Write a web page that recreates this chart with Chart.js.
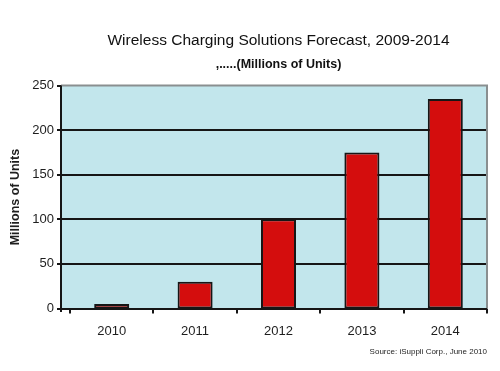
<!DOCTYPE html>
<html>
<head>
<meta charset="utf-8">
<script src="https://cdn.jsdelivr.net/npm/chart.js@4"></script>
<style>
    html, body { margin: 0; padding: 0; background: #fff; }
</style>
</head>
<body>
<canvas id="forecast" width="500" height="371"></canvas>
<script>
// data
const years = ['2010', '2011', '2012', '2013', '2014'];
const units = [5, 30, 100, 175, 235];
const gridValues = [50, 100, 150, 200];

const chartTitle = 'Wireless Charging Solutions Forecast, 2009-2014';
const chartSubtitle = ',.....(Millions of Units)';
const axisTitle = 'Millions of Units';
const sourceNote = 'Source: iSuppli Corp., June 2010';

Chart.defaults.font.family = "'Liberation Sans', Arial, sans-serif";
Chart.defaults.color = '#1e1e1e';

// plot background, grid lines and axis lines (the old excel look)
const plotFrame = {
    id: 'plotFrame',
    beforeDatasetsDraw(chart) {
        const {ctx, chartArea: a, scales: {y}} = chart;
        const left = a.left - 9;
        ctx.save();
        ctx.fillStyle = '#c2e6ec';
        ctx.fillRect(left, a.top, a.right - left, a.bottom - a.top);
        ctx.strokeStyle = '#161616';
        ctx.lineWidth = 2;
        gridValues.forEach((v) => {
            const py = Math.round(y.getPixelForValue(v));
            ctx.beginPath();
            ctx.moveTo(left, py);
            ctx.lineTo(a.right, py);
            ctx.stroke();
        });
        ctx.restore();
    },
    afterDatasetsDraw(chart) {
        const {ctx, chartArea: a, scales: {y}} = chart;
        const left = a.left - 9;
        const zero = Math.round(y.getPixelForValue(0));
        ctx.save();
        // top + right border, grey
        ctx.strokeStyle = '#8a8f90';
        ctx.lineWidth = 2;
        ctx.beginPath();
        ctx.moveTo(left, a.top);
        ctx.lineTo(a.right, a.top);
        ctx.lineTo(a.right, zero);
        ctx.stroke();
        // y axis line with small ticks
        ctx.strokeStyle = '#161616';
        ctx.beginPath();
        ctx.moveTo(left, a.top);
        ctx.lineTo(left, zero + 3);
        [0].concat(gridValues, [250]).forEach((v) => {
            const py = Math.round(y.getPixelForValue(v));
            ctx.moveTo(left - 4, py);
            ctx.lineTo(left, py);
        });
        // x axis line
        ctx.moveTo(left - 4, zero);
        ctx.lineTo(a.right, zero);
        ctx.stroke();
        ctx.restore();
    }
};

new Chart(document.getElementById('forecast'), {
    type: 'bar',
    data: {
        labels: years,
        datasets: [{
            label: 'Millions of Units',
            data: units,
            backgroundColor: '#d40d0d',
            borderColor: '#161616',
            borderWidth: 2,
            borderSkipped: false,
            categoryPercentage: 1,
            barPercentage: 0.42
        }]
    },
    plugins: [plotFrame],
    options: {
        responsive: false,
        animation: false,
        layout: { padding: { left: 0, right: 13, top: 0, bottom: 0 } },
        plugins: {
            legend: { display: false },
            tooltip: { enabled: false },
            title: {
                display: true,
                text: chartTitle,
                fullSize: false,
                color: '#111',
                font: { size: 15.5, weight: 'normal' },
                padding: { top: 31, bottom: 7 }
            },
            subtitle: {
                display: true,
                text: chartSubtitle,
                fullSize: false,
                color: '#111',
                font: { size: 12.5, weight: 'bold' },
                padding: { top: 0, bottom: 14 }
            }
        },
        scales: {
            x: {
                grid: {
                    display: true,
                    offset: true,
                    drawOnChartArea: false,
                    drawTicks: true,
                    tickLength: 5,
                    color: '#161616',
                    lineWidth: 2
                },
                border: { display: false },
                ticks: { padding: 10, font: { size: 13 } },
                title: {
                    display: true,
                    text: sourceNote,
                    align: 'end',
                    font: { size: 8 },
                    padding: { top: 0, bottom: 14 }
                },
                afterFit(scale) { scale.height = 62.5; }
            },
            y: {
                min: 0,
                max: 250,
                ticks: { stepSize: 50, padding: 16, font: { size: 13 } },
                grid: { display: false, drawTicks: false },
                border: { display: false },
                title: {
                    display: true,
                    text: axisTitle,
                    font: { size: 12.5, weight: 'bold' },
                    padding: { top: 8, bottom: 0 }
                },
                afterFit(scale) { scale.width = 70; }
            }
        }
    }
});
</script>
</body>
</html>
